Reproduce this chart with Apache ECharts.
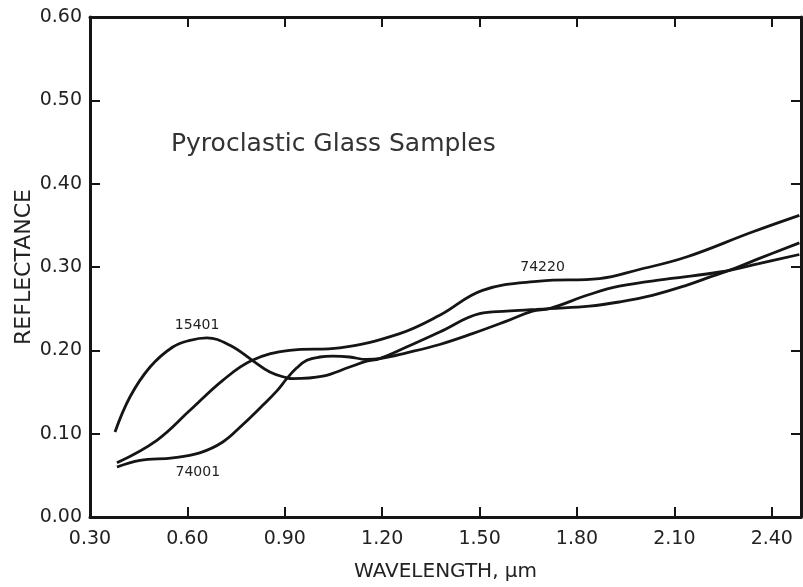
<!DOCTYPE html>
<html>
<head>
<meta charset="utf-8">
<script src="https://cdn.jsdelivr.net/npm/echarts@6/dist/echarts.min.js"></script>
<style>
html,body{margin:0;padding:0;background:#fff;}
#chart{width:803px;height:587px;}
</style>
</head>
<body>
<div id="chart"></div>
<script>
// Wavelength (µm) and reflectance
const wl15401 = [0.377, 0.423, 0.485, 0.555, 0.608, 0.66, 0.731, 0.80, 0.854, 0.906, 0.925, 1.017, 1.10, 1.152, 1.192, 1.275, 1.377, 1.50, 1.583, 1.675, 1.715, 1.838, 1.93, 2.032, 2.137, 2.217, 2.29, 2.36, 2.485];
const r15401  = [0.102, 0.144, 0.180, 0.204, 0.212, 0.215, 0.206, 0.188, 0.174, 0.167, 0.166, 0.169, 0.180, 0.187, 0.190, 0.204, 0.222, 0.244, 0.247, 0.249, 0.250, 0.253, 0.258, 0.266, 0.278, 0.289, 0.299, 0.310, 0.329];

const wl74220 = [0.383, 0.506, 0.608, 0.709, 0.80, 0.915, 1.069, 1.254, 1.377, 1.509, 1.685, 1.869, 1.992, 2.137, 2.34, 2.485];
const r74220  = [0.065, 0.092, 0.128, 0.164, 0.188, 0.200, 0.203, 0.220, 0.242, 0.272, 0.283, 0.286, 0.297, 0.312, 0.342, 0.362];

const wl74001 = [0.383, 0.454, 0.555, 0.638, 0.709, 0.771, 0.832, 0.875, 0.906, 0.937, 0.968, 1.008, 1.048, 1.10, 1.152, 1.192, 1.275, 1.377, 1.478, 1.583, 1.663, 1.715, 1.838, 1.93, 2.085, 2.24, 2.36, 2.485];
const r74001  = [0.060, 0.068, 0.071, 0.077, 0.090, 0.111, 0.134, 0.151, 0.166, 0.179, 0.188, 0.192, 0.193, 0.192, 0.189, 0.190, 0.197, 0.207, 0.220, 0.235, 0.247, 0.250, 0.267, 0.277, 0.286, 0.294, 0.304, 0.315];

const sampleNames = ['15401', '74220', '74001'];
const labelPos = { '15401': [0.63, 0.230], '74220': [1.694, 0.300], '74001': [0.632, 0.054] };

const xTicks = { min: 0.30, max: 2.49, step: 0.30 };
const yTicks = { min: 0.00, max: 0.60, step: 0.10 };

const titleText = 'Pyroclastic Glass Samples';
const xName = 'WAVELENGTH, \u03bcm';
const yName = 'REFLECTANCE';

const FONT = 'DejaVu Sans';
const INK = '#151515';
const TXT = '#222';

function pairs(xs, ys) { return xs.map((x, i) => [x, ys[i]]); }

const chart = echarts.init(document.getElementById('chart'), null, { renderer: 'canvas' });

const axisCommon = {
  type: 'value',
  axisLine: { show: true, onZero: false, lineStyle: { color: INK, width: 3 } },
  axisTick: { show: true, inside: true, length: 10, lineStyle: { color: INK, width: 2 } },
  splitLine: { show: false }
};

const seriesData = { '15401': pairs(wl15401, r15401), '74220': pairs(wl74220, r74220), '74001': pairs(wl74001, r74001) };

const option = {
  backgroundColor: '#ffffff',
  animation: false,
  title: {
    text: titleText,
    left: 166, top: 127,
    textStyle: { fontFamily: FONT, fontSize: 25, fontWeight: 'normal', color: '#333' }
  },
  grid: { left: 90, right: 2, top: 17, bottom: 69, containLabel: false },
  xAxis: [
    Object.assign({}, axisCommon, {
      position: 'bottom', min: xTicks.min, max: xTicks.max, interval: xTicks.step,
      name: xName, nameLocation: 'middle', nameGap: 45, nameMoveOverlap: false,
      nameTextStyle: { fontFamily: FONT, fontSize: 20, color: TXT, verticalAlign: 'top' },
      axisLabel: { show: true, margin: 13, showMaxLabel: false, fontFamily: FONT, fontSize: 19, color: TXT,
        formatter: v => v.toFixed(2) }
    }),
    Object.assign({}, axisCommon, {
      position: 'top', min: xTicks.min, max: xTicks.max, interval: xTicks.step,
      axisLabel: { show: false }
    })
  ],
  yAxis: [
    Object.assign({}, axisCommon, {
      position: 'left', min: yTicks.min, max: yTicks.max, interval: yTicks.step,
      name: yName, nameLocation: 'middle', nameGap: 55, nameMoveOverlap: false,
      nameTextStyle: { fontFamily: FONT, fontSize: 22, color: TXT },
      axisLabel: { show: true, margin: 8, fontFamily: FONT, fontSize: 19, color: TXT,
        formatter: v => v.toFixed(2) }
    }),
    Object.assign({}, axisCommon, {
      position: 'right', min: yTicks.min, max: yTicks.max, interval: yTicks.step,
      axisLabel: { show: false }
    })
  ],
  series: sampleNames.map(name => ({
    name: name,
    type: 'line',
    xAxisIndex: 0, yAxisIndex: 0,
    data: seriesData[name],
    smooth: 0.4,
    showSymbol: false,
    symbol: 'none',
    clip: true,
    lineStyle: { color: INK, width: 2.8 },
    markPoint: {
      symbol: 'circle', symbolSize: 0,
      label: { show: true, position: 'inside', formatter: name, fontFamily: FONT, fontSize: 14, color: TXT },
      data: [{ coord: labelPos[name] }]
    }
  }))
};

chart.setOption(option);
</script>
</body>
</html>
